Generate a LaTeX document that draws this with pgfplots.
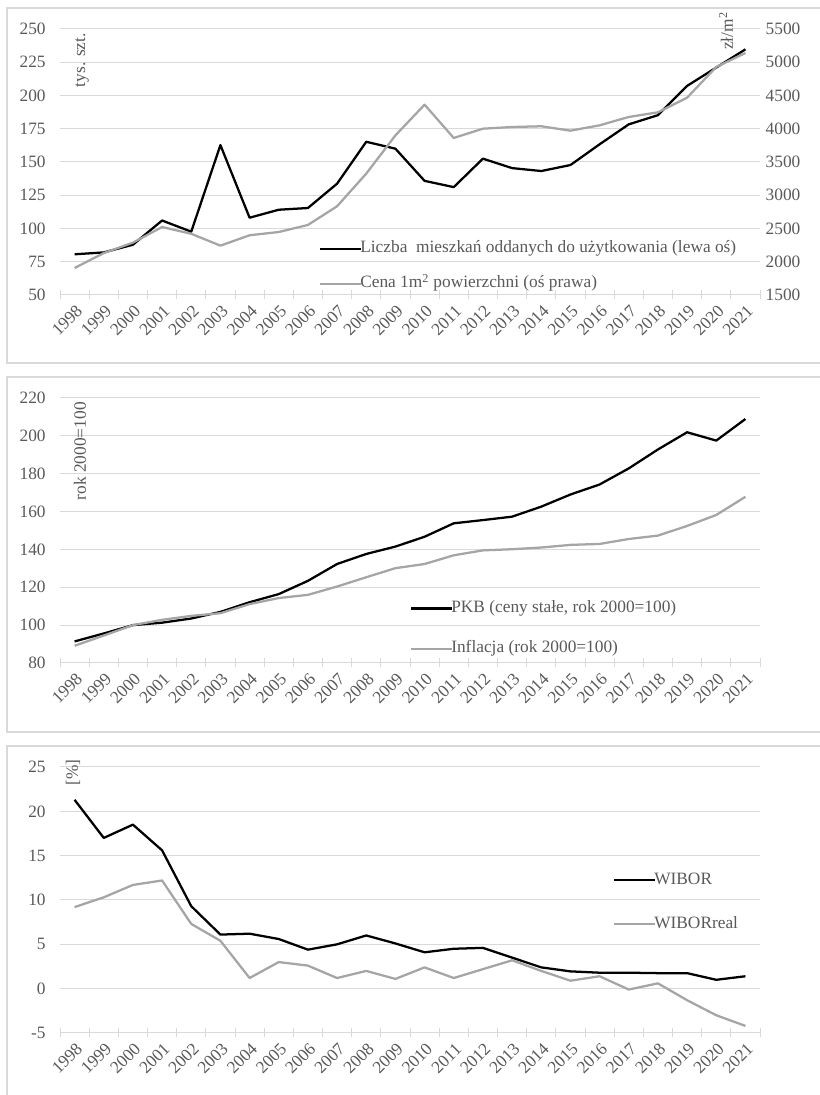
\documentclass[border=0pt]{standalone}
\usepackage{pgfplots}
\pgfplotsset{compat=1.18}
\usepackage{pgfplotstable}
\usepackage{fontspec}
\setmainfont{Liberation Serif}
\definecolor{tickgray}{HTML}{595959}
\definecolor{gridgray}{HTML}{D9D9D9}
\definecolor{sergray}{HTML}{A5A5A5}

\pgfplotstableread{
x  liczba cena pkb   infl  wibor wreal
0  80.6   1906 91.4  89.1  21.3  9.2
1  82.0   2130 95.6  94.5  17.0  10.3
2  87.8   2287 100.0 100.0 18.5  11.7
3  106.0  2522 101.3 102.8 15.6  12.2
4  97.6   2420 103.5 104.9 9.3   7.3
5  162.7  2242 107.0 106.3 6.1   5.4
6  108.1  2398 112.1 111.1 6.2   1.2
7  114.1  2447 116.4 114.3 5.6   3.0
8  115.4  2553 123.4 116.0 4.4   2.6
9  133.7  2834 132.3 120.4 5.0   1.2
10 165.2  3325 137.6 125.3 6.0   2.0
11 160.0  3900 141.5 130.1 5.1   1.1
12 135.8  4362 146.7 132.3 4.1   2.4
13 131.1  3861 153.8 136.9 4.5   1.2
14 152.5  4001 155.5 139.5 4.6   2.2
15 145.4  4026 157.3 140.1 3.5   3.2
16 143.2  4037 162.6 141.0 2.4   2.0
17 147.7  3971 169.0 142.4 1.95  0.9
18 163.3  4051 174.3 142.9 1.8   1.4
19 178.3  4177 182.8 145.5 1.8   -0.1
20 185.2  4247 192.8 147.3 1.75  0.6
21 207.2  4467 201.9 152.4 1.75  -1.3
22 221.0  4929 197.5 158.2 1.0   -3.0
23 234.7  5139 208.9 167.8 1.4   -4.2
}\data

\newcommand{\fs}{\fontsize{13}{15}\selectfont}
\pgfplotsset{
  base/.style={
    scale only axis, width=525pt,
    xmin=-0.5, xmax=23.5,
    xtick={0,...,23},
    xticklabels={1998,1999,2000,2001,2002,2003,2004,2005,2006,2007,2008,2009,2010,2011,2012,2013,2014,2015,2016,2017,2018,2019,2020,2021},
    major tick length=0pt,
    minor xtick={-0.5,0.5,...,23.5},
    minor x tick style={draw=gridgray, line width=0.75pt},
    minor tick length=6.75pt,
    tick align=center,
    xtick pos=bottom,
    ytick pos=left,
    axis line style={draw=none},
    ymajorgrids, grid style={gridgray, line width=0.75pt},
    tick label style={font=\fs, text=tickgray},
    yticklabel style={xshift=-7.25pt},
    xticklabel style={xshift=6pt, yshift=-7.5pt, rotate=45, anchor=east},
    /pgf/number format/assume math mode=true,
    /pgf/number format/1000 sep={},
    scaled ticks=false,
    clip=false,
    legend style={draw=none, fill=none, inner sep=0pt, outer sep=0pt,
      font=\fs, text=tickgray,
      nodes={inner sep=2pt, text height=9pt, text depth=3pt},
      cells={anchor=west}},
    legend image code/.code={\draw[#1,line width=1.7pt] (0pt,0pt) -- (27pt,0pt);\draw[#1,line width=1.7pt,overlay] (27pt,0pt) -- (30.5pt,0pt);},
  },
  blk/.style={black, line width=1.7pt, line join=round},
  gry/.style={sergray, line width=1.7pt, line join=round},
}

\begin{document}
\begin{tikzpicture}[x=0.75pt,y=0.75pt]
\useasboundingbox (0,0) rectangle (820,1095);
% frames
\draw[gridgray, line width=1.1pt] (7,1087) rectangle (835,732);
\draw[gridgray, line width=1.1pt] (7,718) rectangle (835,363);
\draw[gridgray, line width=1.1pt] (7,349) rectangle (835,-20);

% ---- panel 1 ----
\begin{axis}[base, at={(45pt,600pt)}, anchor=south west, height=199.5pt,
  ymin=50, ymax=250, ytick={50,75,...,250},
  legend style={at={(0.3705,0.213)}, anchor=north west, row sep=10.25pt}]
\addplot[blk] table[x=x,y=liczba]{\data};
\addlegendentry{Liczba~ mieszkań oddanych do użytkowania (lewa oś)}
\addlegendimage{gry}
\addlegendentry{Cena 1m\textsuperscript{2} powierzchni (oś prawa)}
\end{axis}
\begin{axis}[base, at={(45pt,600pt)}, anchor=south west, height=199.5pt,
  ymin=1500, ymax=5500, ytick={1500,2000,...,5500},
  ytick pos=right, ymajorgrids=false, xtick=\empty, minor xtick=\empty,
  yticklabel style={xshift=8pt}]
\addplot[gry] table[x=x,y=cena]{\data};
\end{axis}
\node[rotate=90, anchor=east, inner sep=0pt, font=\fs, text=tickgray] at (82,1062) {tys. szt.};
\node[rotate=90, anchor=east, inner sep=0pt, font=\fs, text=tickgray] at (726,1083) {zł/m\textsuperscript{2}};

% ---- panel 2 ----
\begin{axis}[base, at={(45pt,324pt)}, anchor=south west, height=198.75pt,
  ymin=80, ymax=220, ytick={80,100,...,220},
  legend style={at={(0.5005,0.2455)}, anchor=north west, row sep=14.25pt}]
\addplot[blk] table[x=x,y=pkb]{\data};
\addlegendentry{PKB (ceny stałe, rok 2000=100)}
\addplot[gry] table[x=x,y=infl]{\data};
\addlegendentry{Inflacja (rok 2000=100)}
\end{axis}
\node[rotate=90, anchor=east, inner sep=0pt, font=\fs, text=tickgray] at (80,693) {rok 2000=100};

% ---- panel 3 ----
\begin{axis}[base, at={(45pt,46.5pt)}, anchor=south west, height=199.5pt,
  ymin=-5, ymax=25, ytick={-5,0,...,25}, yticklabels={-5,0,5,10,15,20,25},
  legend style={at={(0.7905,0.615)}, anchor=north west, row sep=17pt}]
\addplot[blk] table[x=x,y=wibor]{\data};
\addlegendentry{WIBOR}
\addplot[gry] table[x=x,y=wreal]{\data};
\addlegendentry{WIBORreal}
\end{axis}
\node[rotate=90, anchor=east, inner sep=0pt, font=\fs, text=tickgray] at (73,336) {[\%]};
\end{tikzpicture}
\end{document}
